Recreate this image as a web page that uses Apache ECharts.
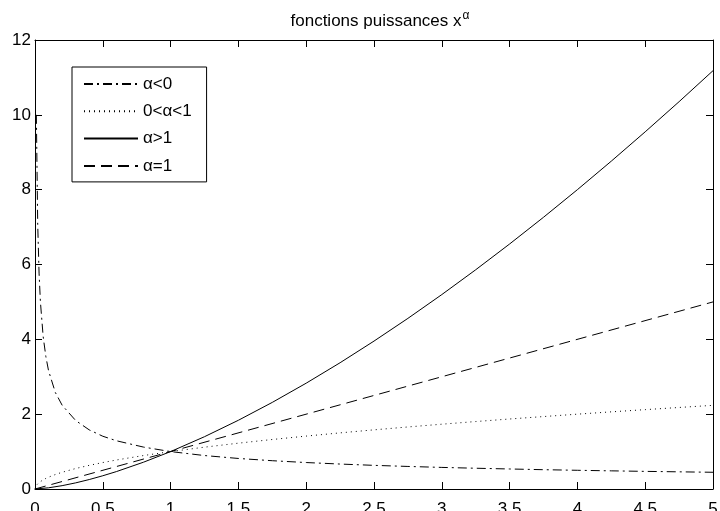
<!DOCTYPE html>
<html><head><meta charset="utf-8">
<script src="https://cdn.jsdelivr.net/npm/echarts@6/dist/echarts.min.js"></script>
<style>html,body{margin:0;padding:0;background:#fff}#c{width:720px;height:511px}</style>
</head><body><div id="c"></div>
<script>
var seriesNames = ['α<0', '0<α<1', 'α>1', 'α=1'];
var xNeg = [0.01,0.02,0.03,0.04,0.06,0.08,0.1,0.15,0.2,0.3,0.4,0.5,0.6,0.8,1.0,1.25,1.5,1.75,2.0,2.25,2.5,2.75,3.0,3.25,3.5,3.75,4.0,4.25,4.5,4.75,5.0];
var yNeg = [10,7.07,5.77,5.0,4.08,3.54,3.16,2.58,2.24,1.83,1.58,1.41,1.29,1.12,1.0,0.894,0.816,0.756,0.707,0.667,0.632,0.603,0.577,0.555,0.535,0.516,0.5,0.485,0.471,0.459,0.447];
var xSqrt = [0,0.01,0.02,0.03,0.04,0.06,0.08,0.1,0.15,0.2,0.3,0.4,0.5,0.6,0.8,1.0,1.25,1.5,1.75,2.0,2.25,2.5,2.75,3.0,3.25,3.5,3.75,4.0,4.25,4.5,4.75,5.0];
var ySqrt = [0,0.1,0.141,0.173,0.2,0.245,0.283,0.316,0.387,0.447,0.548,0.632,0.707,0.775,0.894,1.0,1.118,1.225,1.323,1.414,1.5,1.581,1.658,1.732,1.803,1.871,1.936,2.0,2.062,2.121,2.179,2.236];
var xPow = [0,0.1,0.2,0.3,0.4,0.5,0.6,0.8,1.0,1.25,1.5,1.75,2.0,2.25,2.5,2.75,3.0,3.25,3.5,3.75,4.0,4.25,4.5,4.75,5.0];
var yPow = [0,0.032,0.089,0.164,0.253,0.354,0.465,0.716,1.0,1.398,1.837,2.315,2.828,3.375,3.953,4.56,5.196,5.859,6.548,7.262,8.0,8.762,9.546,10.352,11.18];
var xLin = [0,5];
var yLin = [0,5];

function pairs(xs, ys){ return xs.map(function(x,i){return [x, ys[i]];}); }
var font = 'Liberation Sans, Arial, sans-serif';
var chart = echarts.init(document.getElementById('c'));
var tickFmt = function(v){ return String(v); };
function ax(dir, pos, showLabel, min, max, interval) {
  return {
    type: 'value', min: min, max: max, interval: interval, position: pos,
    axisLine: { show: true, onZero: false, lineStyle: { color: '#000', width: 1 } },
    axisTick: { show: true, inside: true, length: 7, lineStyle: { color: '#000', width: 1 } },
    axisLabel: showLabel ? { fontFamily: font, fontSize: 17, color: '#000', margin: dir === 'x' ? 12 : 4, formatter: tickFmt } : { show: false },
    splitLine: { show: false }
  };
}
chart.setOption({
  animation: false,
  backgroundColor: '#fff',
  title: {
    text: '{t|fonctions puissances x}{s|α}',
    left: 375, top: 5, textAlign: 'center',
    textStyle: { rich: {
      t: { fontFamily: font, fontSize: 17, color: '#000', fontWeight: 'normal' },
      s: { fontFamily: font, fontSize: 12, color: '#000', fontWeight: 'normal', verticalAlign: 'top', padding: [0,0,10,1] }
    } }
  },
  grid: { left: 35, right: 7, top: 40, bottom: 22, outerBoundsMode: 'none', containLabel: false },
  legend: {
    orient: 'vertical', left: 72, top: 67,
    padding: [8.5, 15, 7.5, 11], itemGap: 10.3, itemWidth: 54, itemHeight: 14,
    borderColor: '#000', borderWidth: 1, backgroundColor: '#fff',
    itemStyle: { color: 'transparent', borderWidth: 0, opacity: 0 },
    textStyle: { fontFamily: font, fontSize: 17, color: '#000' },
    data: seriesNames
  },
  xAxis: [ax('x', 'bottom', true, 0, 5, 0.5), ax('x', 'top', false, 0, 5, 0.5)],
  yAxis: [ax('y', 'left', true, 0, 12, 2), ax('y', 'right', false, 0, 12, 2)],
  series: [
    { name: seriesNames[0], type: 'line', symbol: 'none', data: pairs(xNeg, yNeg), color: '#000',
      lineStyle: { color: '#000', width: 1, type: [9, 4, 2, 4] } },
    { name: seriesNames[1], type: 'line', symbol: 'none', data: pairs(xSqrt, ySqrt), color: '#000',
      lineStyle: { color: '#000', width: 1, type: [1, 4] } },
    { name: seriesNames[2], type: 'line', symbol: 'none', data: pairs(xPow, yPow), color: '#000',
      lineStyle: { color: '#000', width: 1, type: 'solid' } },
    { name: seriesNames[3], type: 'line', symbol: 'none', data: pairs(xLin, yLin), color: '#000',
      lineStyle: { color: '#000', width: 1, type: [11, 6] } },
    { type: 'line', xAxisIndex: 1, yAxisIndex: 1, symbol: 'none', silent: true, data: [], lineStyle: { opacity: 0 } }
  ]
});
</script></body></html>
